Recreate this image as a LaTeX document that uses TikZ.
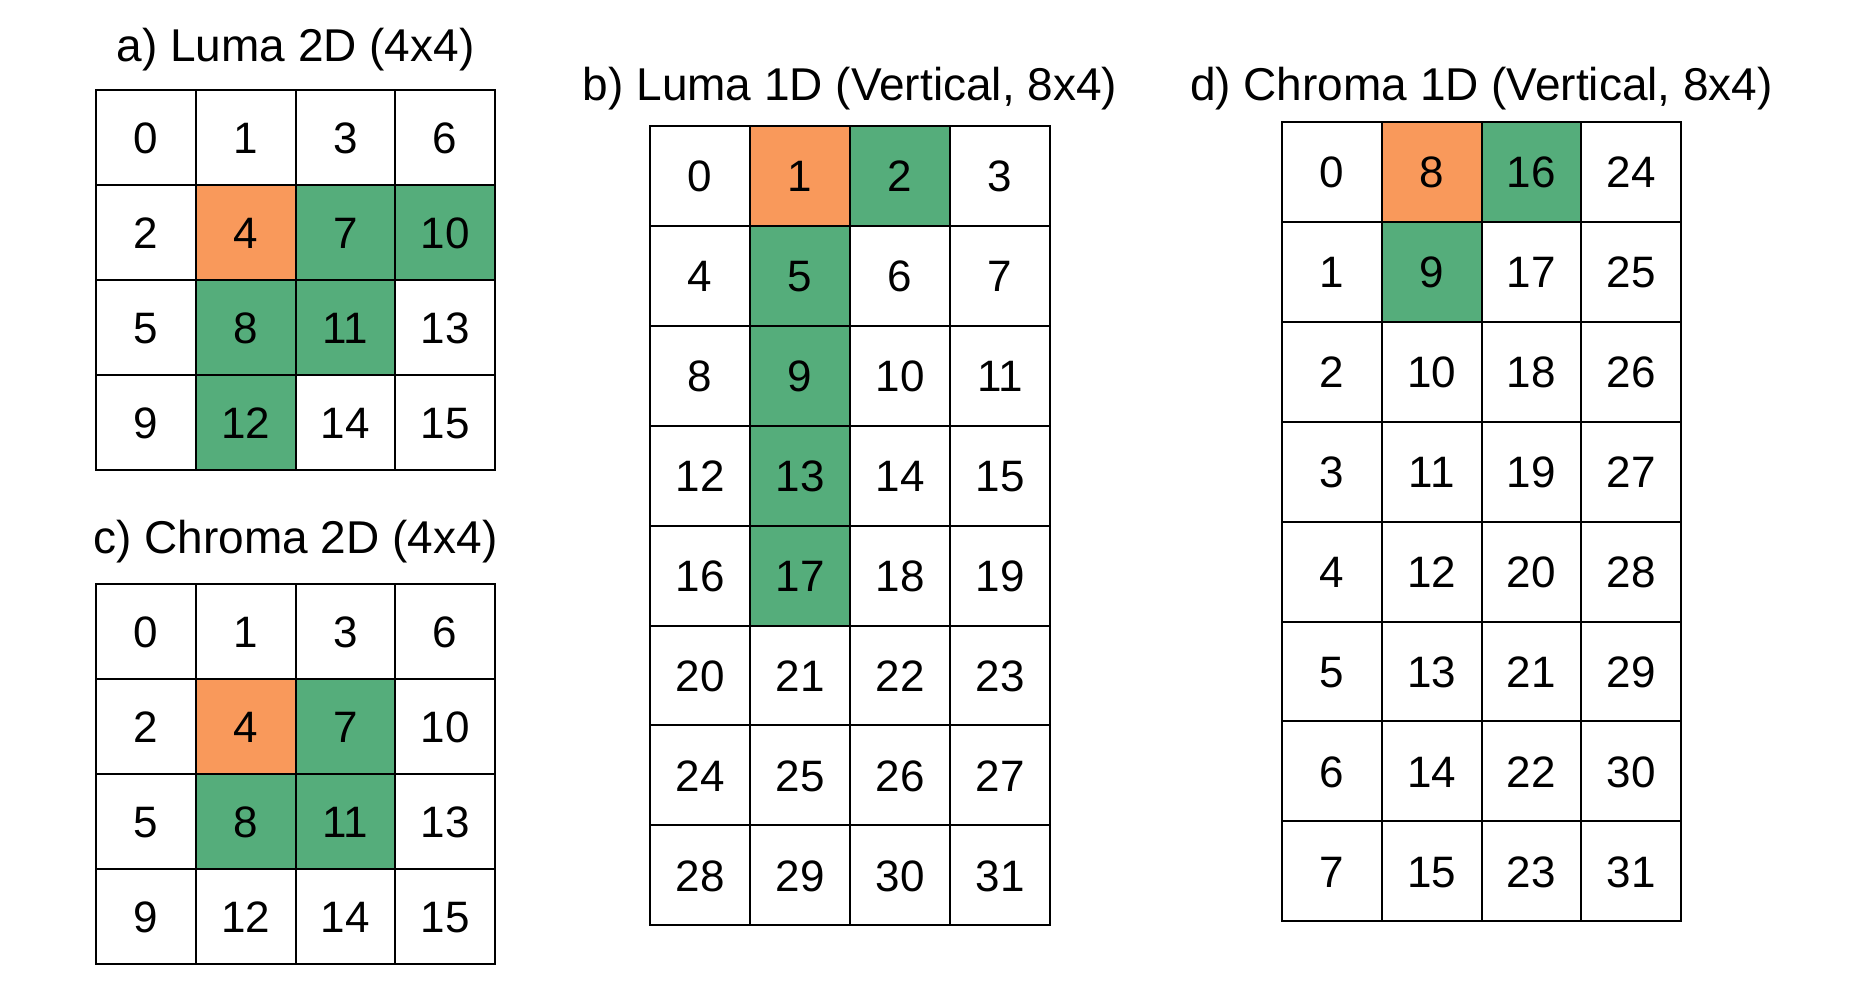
\documentclass[tikz,border=0pt]{standalone}
\usepackage{fontspec}
\setmainfont{Liberation Sans}
\definecolor{cOrange}{HTML}{F9995B}
\definecolor{cGreen}{HTML}{55AD7B}
\begin{document}
\begin{tikzpicture}[x=1pt,y=-1pt,
  cellbox/.style={draw=black, line width=2pt, rectangle, inner sep=0pt,
    font=\fontsize{44}{44}\selectfont, text height=31.5pt, text depth=0pt},
  fillw/.style={fill=white},
  fillo/.style={fill=cOrange},
  fillg/.style={fill=cGreen},
  ttl/.style={anchor=base, inner sep=0pt, font=\fontsize{46}{46}\selectfont}]
\useasboundingbox[fill=white] (0,0) rectangle (1868,998);

% a) Luma 2D
\node[ttl] (ta) at (295.5,62) {a) Luma 2D (4x4)};
\foreach \v/\f [count=\i from 0] in {0/w,1/w,3/w,6/w,2/w,4/o,7/g,10/g,5/w,8/g,11/g,13/w,9/w,12/g,14/w,15/w}{
  \pgfmathtruncatemacro\c{mod(\i,4)}
  \pgfmathtruncatemacro\r{div(\i,4)}
  \node[cellbox, fill\f, minimum width=99.75pt, minimum height=95pt]
    (a-\r-\c) at ({96+99.75*(\c+0.5)},{90+95*(\r+0.5)}) {\v};
}

% c) Chroma 2D
\node[ttl] (tc) at (295.5,553) {c) Chroma 2D (4x4)};
\foreach \v/\f [count=\i from 0] in {0/w,1/w,3/w,6/w,2/w,4/o,7/g,10/w,5/w,8/g,11/g,13/w,9/w,12/w,14/w,15/w}{
  \pgfmathtruncatemacro\c{mod(\i,4)}
  \pgfmathtruncatemacro\r{div(\i,4)}
  \node[cellbox, fill\f, minimum width=99.75pt, minimum height=95pt]
    (c-\r-\c) at ({96+99.75*(\c+0.5)},{584+95*(\r+0.5)}) {\v};
}

% b) Luma 1D
\node[ttl] (tb) at (850,100.5) {b) Luma 1D (Vertical, 8x4)};
\foreach \v/\f [count=\i from 0] in {0/w,1/o,2/g,3/w,4/w,5/g,6/w,7/w,8/w,9/g,10/w,11/w,12/w,13/g,14/w,15/w,16/w,17/g,18/w,19/w,20/w,21/w,22/w,23/w,24/w,25/w,26/w,27/w,28/w,29/w,30/w,31/w}{
  \pgfmathtruncatemacro\c{mod(\i,4)}
  \pgfmathtruncatemacro\r{div(\i,4)}
  \node[cellbox, fill\f, minimum width=100pt, minimum height=99.9pt]
    (b-\r-\c) at ({650+100*(\c+0.5)},{126+99.9*(\r+0.5)}) {\v};
}

% d) Chroma 1D
\node[ttl] (td) at (1481.5,100) {d) Chroma 1D (Vertical, 8x4)};
\foreach \v/\f [count=\i from 0] in {0/w,8/o,16/g,24/w,1/w,9/g,17/w,25/w,2/w,10/w,18/w,26/w,3/w,11/w,19/w,27/w,4/w,12/w,20/w,28/w,5/w,13/w,21/w,29/w,6/w,14/w,22/w,30/w,7/w,15/w,23/w,31/w}{
  \pgfmathtruncatemacro\c{mod(\i,4)}
  \pgfmathtruncatemacro\r{div(\i,4)}
  \node[cellbox, fill\f, minimum width=99.75pt, minimum height=99.9pt]
    (d-\r-\c) at ({1282+99.75*(\c+0.5)},{122+99.9*(\r+0.5)}) {\v};
}
\end{tikzpicture}
\end{document}
